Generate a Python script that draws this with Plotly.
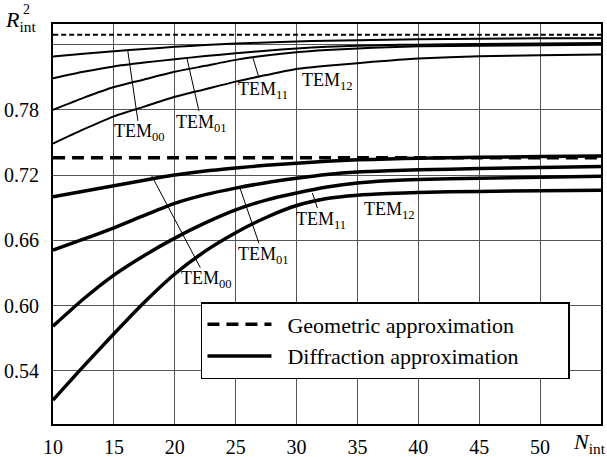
import plotly.graph_objects as go

# ---- data ----
N = [10, 12.5, 15, 17.5, 20, 22.5, 25, 27.5, 30, 32.5, 35, 37.5, 40, 45, 50, 55]

# upper set (thin lines)
up_geo = [0.849] * len(N)
up_tem00 = [0.829, 0.8316, 0.834, 0.836, 0.838, 0.8396, 0.841, 0.842, 0.843, 0.8436, 0.844, 0.8445, 0.845, 0.8455, 0.846, 0.846]
up_tem01 = [0.809, 0.815, 0.820, 0.8235, 0.8266, 0.8295, 0.832, 0.8345, 0.8365, 0.838, 0.839, 0.8396, 0.840, 0.8407, 0.841, 0.8415]
up_tem11 = [0.780, 0.791, 0.801, 0.808, 0.815, 0.8205, 0.826, 0.830, 0.833, 0.835, 0.8365, 0.8377, 0.8385, 0.839, 0.8395, 0.840]
up_tem12 = [0.749, 0.762, 0.774, 0.783, 0.792, 0.799, 0.806, 0.812, 0.8175, 0.8205, 0.823, 0.8253, 0.8273, 0.8293, 0.8303, 0.831]

# lower set (thick lines)
lo_geo = [0.736] * len(N)
lo_tem00 = [0.700, 0.7051, 0.7102, 0.7153, 0.720, 0.7237, 0.7265, 0.729, 0.731, 0.7327, 0.734, 0.7348, 0.7355, 0.7363, 0.737, 0.7375]
lo_tem01 = [0.651, 0.661, 0.6715, 0.683, 0.694, 0.702, 0.708, 0.713, 0.717, 0.7205, 0.7228, 0.724, 0.7248, 0.726, 0.727, 0.728]
lo_tem11 = [0.581, 0.606, 0.628, 0.646, 0.662, 0.676, 0.688, 0.697, 0.7035, 0.709, 0.7128, 0.7148, 0.716, 0.717, 0.718, 0.719]
lo_tem12 = [0.513, 0.544, 0.574, 0.603, 0.629, 0.650, 0.667, 0.681, 0.692, 0.6985, 0.7015, 0.703, 0.704, 0.705, 0.7055, 0.706]

x_ticks = [10, 15, 20, 25, 30, 35, 40, 45, 50]
y_ticks = [0.54, 0.60, 0.66, 0.72, 0.78, 0.84]
y_ticklabels = ["0.54", "0.60", "0.66", "0.72", "0.78", ""]

legend_names = ["Geometric approximation", "Diffraction approximation"]

# labels: (text, x, y, ax, ay, arrow)
labels = [
    ("TEM<sub>00</sub>", 16.13, 0.8352, 12, 83, True),
    ("TEM<sub>01</sub>", 20.98, 0.8285, 15, 66, True),
    ("TEM<sub>11</sub>", 26.4, 0.8285, 10, 33, True),
    ("TEM<sub>12</sub>", 32.5, 0.8058, 0, 0, False),
    ("TEM<sub>00</sub>", 18.1, 0.7195, 55, 104, True),
    ("TEM<sub>01</sub>", 25.36, 0.7079, 23, 67, True),
    ("TEM<sub>11</sub>", 31.3, 0.7035, 9, 27, True),
    ("TEM<sub>12</sub>", 37.6, 0.687, 0, 0, False),
]

FONT = "serif"

fig = go.Figure()

def add(y, width, dash="solid", name=None, show=False):
    fig.add_trace(go.Scatter(
        x=N, y=y, mode="lines", name=name, showlegend=show,
        line=dict(color="black", width=width, dash=dash, shape="spline", smoothing=0.6),
        hoverinfo="skip"))

add(up_geo, 2, "5px,3px")
for s in (up_tem00, up_tem01, up_tem11, up_tem12):
    add(s, 2)
lead = "\u00a0" * 2
pad = "\u00a0" * 8
add(lo_geo, 3.5, "12px,7px", lead + legend_names[0] + pad, True)
add(lo_tem00, 3.5, "solid", lead + legend_names[1] + pad, True)
for s in (lo_tem01, lo_tem11, lo_tem12):
    add(s, 3.5)

anns = []
for text, x, y, ax, ay, arrow in labels:
    if arrow:
        anns.append(dict(x=x, y=y, xref="x", yref="y", text=text, showarrow=True,
                         ax=ax, ay=ay, arrowhead=0, arrowwidth=1, arrowcolor="black",
                         standoff=0, borderpad=0,
                         font=dict(family=FONT, size=18, color="black")))
    else:
        anns.append(dict(x=x, y=y, xref="x", yref="y", text=text, showarrow=False,
                         font=dict(family=FONT, size=18, color="black")))

# axis titles
anns.append(dict(xref="paper", yref="paper", x=-0.092, y=1.008, xanchor="left", yanchor="middle",
                 text="<i>R</i><sub>int</sub>", showarrow=False,
                 font=dict(family=FONT, size=22, color="black")))
anns.append(dict(xref="paper", yref="paper", x=-0.058, y=1.037, xanchor="left", yanchor="middle",
                 text="2", showarrow=False,
                 font=dict(family=FONT, size=14, color="black")))
anns.append(dict(xref="paper", yref="paper", x=0.945, y=-0.047, xanchor="left", yanchor="middle",
                 text="<i>N</i><sub>int</sub>", showarrow=False,
                 font=dict(family=FONT, size=22, color="black")))

fig.update_layout(
    width=607, height=457,
    margin=dict(l=53, r=6, t=24, b=33, autoexpand=False),
    paper_bgcolor="white", plot_bgcolor="white",
    font=dict(family=FONT, size=20, color="black"),
    annotations=anns,
    legend=dict(x=0.27, y=0.305, xanchor="left", yanchor="top",
                bordercolor="black", borderwidth=1.5, bgcolor="white",
                font=dict(family=FONT, size=22, color="black"),
                itemwidth=64, traceorder="normal"),
    xaxis=dict(range=[10, 55], tickvals=x_ticks, showgrid=True, gridcolor="#555", gridwidth=1,
               showline=True, linecolor="black", linewidth=2, mirror=True,
               ticks="", ticklabelstandoff=4, zeroline=False,
               tickfont=dict(family=FONT, size=20, color="black")),
    yaxis=dict(range=[0.491, 0.859], tickvals=y_ticks, ticktext=y_ticklabels,
               showgrid=True, gridcolor="#555", gridwidth=1,
               showline=True, linecolor="black", linewidth=2, mirror=True,
               ticks="", ticklabelstandoff=8, zeroline=False,
               tickfont=dict(family=FONT, size=20, color="black")),
)

fig.write_html("out.html")
